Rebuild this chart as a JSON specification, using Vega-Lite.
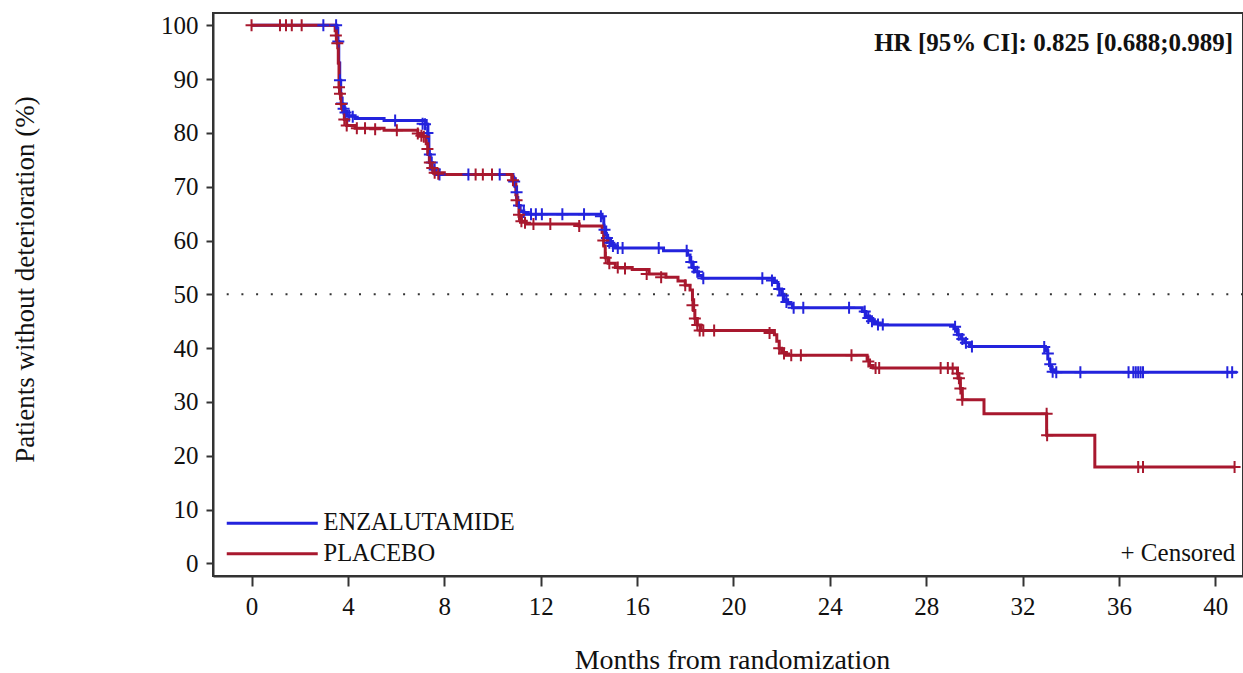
{
  "$schema": "https://vega.github.io/schema/vega-lite/v6.json",
  "width": 1030,
  "height": 563,
  "autosize": {"type": "none"},
  "padding": {"left": 213, "top": 13, "right": 0, "bottom": 97},
  "background": "white",
  "config": {
    "font": "Liberation Serif",
    "view": {"stroke": "#333333", "strokeWidth": 2},
    "axis": {"grid": false, "domainColor": "#333333", "domainWidth": 2, "tickColor": "#333333", "tickWidth": 2, "labelFont": "Liberation Serif", "titleFont": "Liberation Serif", "labelColor": "#111111", "titleColor": "#111111", "labelFontSize": 25, "titleFontSize": 27, "titleFontWeight": "normal"}
  },
  "datasets": {
    "km": [
      {"group": "ENZALUTAMIDE", "t": 0, "s": 100},
      {"group": "ENZALUTAMIDE", "t": 3.54, "s": 99.5},
      {"group": "ENZALUTAMIDE", "t": 3.58, "s": 97},
      {"group": "ENZALUTAMIDE", "t": 3.62, "s": 93},
      {"group": "ENZALUTAMIDE", "t": 3.66, "s": 89.8},
      {"group": "ENZALUTAMIDE", "t": 3.7, "s": 86.5},
      {"group": "ENZALUTAMIDE", "t": 3.76, "s": 85},
      {"group": "ENZALUTAMIDE", "t": 3.85, "s": 84},
      {"group": "ENZALUTAMIDE", "t": 3.95, "s": 83.2},
      {"group": "ENZALUTAMIDE", "t": 4.3, "s": 82.7},
      {"group": "ENZALUTAMIDE", "t": 5.5, "s": 82.3},
      {"group": "ENZALUTAMIDE", "t": 7.25, "s": 81.6},
      {"group": "ENZALUTAMIDE", "t": 7.32, "s": 79.5},
      {"group": "ENZALUTAMIDE", "t": 7.36, "s": 76},
      {"group": "ENZALUTAMIDE", "t": 7.42, "s": 74.5},
      {"group": "ENZALUTAMIDE", "t": 7.5, "s": 73.2},
      {"group": "ENZALUTAMIDE", "t": 7.65, "s": 72.3},
      {"group": "ENZALUTAMIDE", "t": 10.85, "s": 71.5},
      {"group": "ENZALUTAMIDE", "t": 10.95, "s": 70},
      {"group": "ENZALUTAMIDE", "t": 11.0, "s": 68},
      {"group": "ENZALUTAMIDE", "t": 11.05, "s": 66.5},
      {"group": "ENZALUTAMIDE", "t": 11.15, "s": 65.5},
      {"group": "ENZALUTAMIDE", "t": 11.3, "s": 64.9},
      {"group": "ENZALUTAMIDE", "t": 14.55, "s": 64.2},
      {"group": "ENZALUTAMIDE", "t": 14.62, "s": 62.5},
      {"group": "ENZALUTAMIDE", "t": 14.7, "s": 61},
      {"group": "ENZALUTAMIDE", "t": 14.78, "s": 60},
      {"group": "ENZALUTAMIDE", "t": 14.9, "s": 59.2},
      {"group": "ENZALUTAMIDE", "t": 15.1, "s": 58.6},
      {"group": "ENZALUTAMIDE", "t": 17.1, "s": 58.1},
      {"group": "ENZALUTAMIDE", "t": 18.1, "s": 57.3},
      {"group": "ENZALUTAMIDE", "t": 18.2, "s": 56},
      {"group": "ENZALUTAMIDE", "t": 18.3, "s": 55},
      {"group": "ENZALUTAMIDE", "t": 18.4, "s": 54.2},
      {"group": "ENZALUTAMIDE", "t": 18.55, "s": 53.5},
      {"group": "ENZALUTAMIDE", "t": 18.7, "s": 53},
      {"group": "ENZALUTAMIDE", "t": 21.7, "s": 52.2},
      {"group": "ENZALUTAMIDE", "t": 21.85, "s": 51},
      {"group": "ENZALUTAMIDE", "t": 22.0, "s": 50},
      {"group": "ENZALUTAMIDE", "t": 22.1, "s": 49},
      {"group": "ENZALUTAMIDE", "t": 22.25, "s": 48.2},
      {"group": "ENZALUTAMIDE", "t": 22.45, "s": 47.5},
      {"group": "ENZALUTAMIDE", "t": 25.35, "s": 46.8},
      {"group": "ENZALUTAMIDE", "t": 25.5, "s": 46},
      {"group": "ENZALUTAMIDE", "t": 25.65, "s": 45.3},
      {"group": "ENZALUTAMIDE", "t": 25.85, "s": 44.7},
      {"group": "ENZALUTAMIDE", "t": 26.1, "s": 44.3},
      {"group": "ENZALUTAMIDE", "t": 29.15, "s": 43.6},
      {"group": "ENZALUTAMIDE", "t": 29.3, "s": 42.5},
      {"group": "ENZALUTAMIDE", "t": 29.45, "s": 41.7},
      {"group": "ENZALUTAMIDE", "t": 29.6, "s": 41},
      {"group": "ENZALUTAMIDE", "t": 29.8, "s": 40.3},
      {"group": "ENZALUTAMIDE", "t": 32.95, "s": 39.5},
      {"group": "ENZALUTAMIDE", "t": 33.05, "s": 38},
      {"group": "ENZALUTAMIDE", "t": 33.12, "s": 36.8},
      {"group": "ENZALUTAMIDE", "t": 33.2, "s": 36},
      {"group": "ENZALUTAMIDE", "t": 33.35, "s": 35.5},
      {"group": "ENZALUTAMIDE", "t": 40.9, "s": 35.5},
      {"group": "PLACEBO", "t": 0, "s": 100},
      {"group": "PLACEBO", "t": 3.47, "s": 99},
      {"group": "PLACEBO", "t": 3.52, "s": 98.1},
      {"group": "PLACEBO", "t": 3.56, "s": 96.7},
      {"group": "PLACEBO", "t": 3.6, "s": 93},
      {"group": "PLACEBO", "t": 3.63, "s": 88.5},
      {"group": "PLACEBO", "t": 3.67, "s": 87.3},
      {"group": "PLACEBO", "t": 3.72, "s": 85.4},
      {"group": "PLACEBO", "t": 3.78, "s": 84},
      {"group": "PLACEBO", "t": 3.85, "s": 82.5},
      {"group": "PLACEBO", "t": 3.95, "s": 81.4},
      {"group": "PLACEBO", "t": 4.3, "s": 80.9},
      {"group": "PLACEBO", "t": 5.5, "s": 80.5},
      {"group": "PLACEBO", "t": 6.9, "s": 79.9},
      {"group": "PLACEBO", "t": 7.1, "s": 79.4},
      {"group": "PLACEBO", "t": 7.25, "s": 78},
      {"group": "PLACEBO", "t": 7.32, "s": 76},
      {"group": "PLACEBO", "t": 7.38, "s": 74.5},
      {"group": "PLACEBO", "t": 7.45, "s": 73.5},
      {"group": "PLACEBO", "t": 7.55, "s": 72.6},
      {"group": "PLACEBO", "t": 8.0, "s": 72.3},
      {"group": "PLACEBO", "t": 10.8, "s": 71.6},
      {"group": "PLACEBO", "t": 10.9, "s": 70.5},
      {"group": "PLACEBO", "t": 10.97, "s": 68.5},
      {"group": "PLACEBO", "t": 11.02, "s": 66.5},
      {"group": "PLACEBO", "t": 11.1, "s": 64.5},
      {"group": "PLACEBO", "t": 11.2, "s": 63.6},
      {"group": "PLACEBO", "t": 11.4, "s": 63.1},
      {"group": "PLACEBO", "t": 13.6, "s": 62.7},
      {"group": "PLACEBO", "t": 14.55, "s": 61.5},
      {"group": "PLACEBO", "t": 14.62, "s": 59},
      {"group": "PLACEBO", "t": 14.68, "s": 56.8},
      {"group": "PLACEBO", "t": 14.8, "s": 55.8},
      {"group": "PLACEBO", "t": 15.1, "s": 55.0},
      {"group": "PLACEBO", "t": 15.8, "s": 54.6},
      {"group": "PLACEBO", "t": 16.5, "s": 53.8},
      {"group": "PLACEBO", "t": 17.2, "s": 53.2},
      {"group": "PLACEBO", "t": 17.7, "s": 52.5},
      {"group": "PLACEBO", "t": 18.0, "s": 51.7},
      {"group": "PLACEBO", "t": 18.2, "s": 50.8},
      {"group": "PLACEBO", "t": 18.3, "s": 49},
      {"group": "PLACEBO", "t": 18.35, "s": 47},
      {"group": "PLACEBO", "t": 18.4, "s": 45.5},
      {"group": "PLACEBO", "t": 18.5, "s": 44.3},
      {"group": "PLACEBO", "t": 18.65, "s": 43.3},
      {"group": "PLACEBO", "t": 21.7, "s": 42.5},
      {"group": "PLACEBO", "t": 21.8, "s": 41.3},
      {"group": "PLACEBO", "t": 21.9, "s": 40},
      {"group": "PLACEBO", "t": 22.0, "s": 39.2},
      {"group": "PLACEBO", "t": 22.2, "s": 38.7},
      {"group": "PLACEBO", "t": 25.55, "s": 37.8},
      {"group": "PLACEBO", "t": 25.65, "s": 36.8},
      {"group": "PLACEBO", "t": 25.8, "s": 36.3},
      {"group": "PLACEBO", "t": 29.3, "s": 35.3},
      {"group": "PLACEBO", "t": 29.36, "s": 34.4},
      {"group": "PLACEBO", "t": 29.42, "s": 32.5},
      {"group": "PLACEBO", "t": 29.5, "s": 30.4},
      {"group": "PLACEBO", "t": 30.4, "s": 27.8},
      {"group": "PLACEBO", "t": 33.0, "s": 23.8},
      {"group": "PLACEBO", "t": 35.0, "s": 17.9},
      {"group": "PLACEBO", "t": 40.8, "s": 17.9}
    ],
    "censor": [
      {"group": "ENZALUTAMIDE", "t": 2.98, "s": 100},
      {"group": "ENZALUTAMIDE", "t": 3.51, "s": 100},
      {"group": "ENZALUTAMIDE", "t": 3.6, "s": 97},
      {"group": "ENZALUTAMIDE", "t": 3.67, "s": 89.8},
      {"group": "ENZALUTAMIDE", "t": 3.75, "s": 85.5},
      {"group": "ENZALUTAMIDE", "t": 3.82, "s": 84.5},
      {"group": "ENZALUTAMIDE", "t": 3.9, "s": 83.8},
      {"group": "ENZALUTAMIDE", "t": 4.05, "s": 83.2},
      {"group": "ENZALUTAMIDE", "t": 4.2, "s": 83},
      {"group": "ENZALUTAMIDE", "t": 5.96, "s": 82.3},
      {"group": "ENZALUTAMIDE", "t": 7.1, "s": 81.7},
      {"group": "ENZALUTAMIDE", "t": 7.2, "s": 81.6},
      {"group": "ENZALUTAMIDE", "t": 7.3, "s": 80},
      {"group": "ENZALUTAMIDE", "t": 7.4, "s": 76},
      {"group": "ENZALUTAMIDE", "t": 7.48, "s": 74.5},
      {"group": "ENZALUTAMIDE", "t": 7.6, "s": 73.2},
      {"group": "ENZALUTAMIDE", "t": 7.8, "s": 72.3},
      {"group": "ENZALUTAMIDE", "t": 9.0, "s": 72.3},
      {"group": "ENZALUTAMIDE", "t": 10.3, "s": 72.3},
      {"group": "ENZALUTAMIDE", "t": 10.9, "s": 71},
      {"group": "ENZALUTAMIDE", "t": 11.0, "s": 69},
      {"group": "ENZALUTAMIDE", "t": 11.1, "s": 66.5},
      {"group": "ENZALUTAMIDE", "t": 11.3, "s": 65.3},
      {"group": "ENZALUTAMIDE", "t": 11.6, "s": 64.9},
      {"group": "ENZALUTAMIDE", "t": 11.8, "s": 64.9},
      {"group": "ENZALUTAMIDE", "t": 12.05, "s": 64.9},
      {"group": "ENZALUTAMIDE", "t": 12.9, "s": 64.9},
      {"group": "ENZALUTAMIDE", "t": 13.8, "s": 64.9},
      {"group": "ENZALUTAMIDE", "t": 14.5, "s": 64.5},
      {"group": "ENZALUTAMIDE", "t": 14.65, "s": 62},
      {"group": "ENZALUTAMIDE", "t": 14.75, "s": 60.5},
      {"group": "ENZALUTAMIDE", "t": 14.85, "s": 59.6},
      {"group": "ENZALUTAMIDE", "t": 15.0, "s": 59},
      {"group": "ENZALUTAMIDE", "t": 15.2, "s": 58.6},
      {"group": "ENZALUTAMIDE", "t": 15.4, "s": 58.6},
      {"group": "ENZALUTAMIDE", "t": 16.9, "s": 58.6},
      {"group": "ENZALUTAMIDE", "t": 18.06, "s": 58.1},
      {"group": "ENZALUTAMIDE", "t": 18.25, "s": 56},
      {"group": "ENZALUTAMIDE", "t": 18.35, "s": 55},
      {"group": "ENZALUTAMIDE", "t": 18.5, "s": 54.2},
      {"group": "ENZALUTAMIDE", "t": 18.75, "s": 53},
      {"group": "ENZALUTAMIDE", "t": 21.2, "s": 53},
      {"group": "ENZALUTAMIDE", "t": 21.6, "s": 52.6},
      {"group": "ENZALUTAMIDE", "t": 21.9, "s": 51},
      {"group": "ENZALUTAMIDE", "t": 22.05, "s": 49.8},
      {"group": "ENZALUTAMIDE", "t": 22.2, "s": 48.6},
      {"group": "ENZALUTAMIDE", "t": 22.5, "s": 47.5},
      {"group": "ENZALUTAMIDE", "t": 22.9, "s": 47.5},
      {"group": "ENZALUTAMIDE", "t": 24.8, "s": 47.5},
      {"group": "ENZALUTAMIDE", "t": 25.45, "s": 46.8},
      {"group": "ENZALUTAMIDE", "t": 25.6, "s": 45.6},
      {"group": "ENZALUTAMIDE", "t": 25.75, "s": 45},
      {"group": "ENZALUTAMIDE", "t": 26.0, "s": 44.4},
      {"group": "ENZALUTAMIDE", "t": 26.2, "s": 44.4},
      {"group": "ENZALUTAMIDE", "t": 29.2, "s": 44},
      {"group": "ENZALUTAMIDE", "t": 29.35, "s": 42.5},
      {"group": "ENZALUTAMIDE", "t": 29.5, "s": 41.7},
      {"group": "ENZALUTAMIDE", "t": 29.65, "s": 41},
      {"group": "ENZALUTAMIDE", "t": 29.9, "s": 40.3},
      {"group": "ENZALUTAMIDE", "t": 32.9, "s": 40.2},
      {"group": "ENZALUTAMIDE", "t": 33.05, "s": 39},
      {"group": "ENZALUTAMIDE", "t": 33.15, "s": 37},
      {"group": "ENZALUTAMIDE", "t": 33.25, "s": 35.6},
      {"group": "ENZALUTAMIDE", "t": 33.4, "s": 35.5},
      {"group": "ENZALUTAMIDE", "t": 34.4, "s": 35.5},
      {"group": "ENZALUTAMIDE", "t": 36.4, "s": 35.5},
      {"group": "ENZALUTAMIDE", "t": 36.6, "s": 35.5},
      {"group": "ENZALUTAMIDE", "t": 36.7, "s": 35.5},
      {"group": "ENZALUTAMIDE", "t": 36.8, "s": 35.5},
      {"group": "ENZALUTAMIDE", "t": 36.9, "s": 35.5},
      {"group": "ENZALUTAMIDE", "t": 37.0, "s": 35.5},
      {"group": "ENZALUTAMIDE", "t": 40.5, "s": 35.5},
      {"group": "ENZALUTAMIDE", "t": 40.7, "s": 35.5},
      {"group": "PLACEBO", "t": 0, "s": 100},
      {"group": "PLACEBO", "t": 1.18, "s": 100},
      {"group": "PLACEBO", "t": 1.43, "s": 100},
      {"group": "PLACEBO", "t": 1.67, "s": 100},
      {"group": "PLACEBO", "t": 2.08, "s": 100},
      {"group": "PLACEBO", "t": 3.5, "s": 98.1},
      {"group": "PLACEBO", "t": 3.56, "s": 96.7},
      {"group": "PLACEBO", "t": 3.63, "s": 88.5},
      {"group": "PLACEBO", "t": 3.67, "s": 87.3},
      {"group": "PLACEBO", "t": 3.72, "s": 85.4},
      {"group": "PLACEBO", "t": 3.85, "s": 82.5},
      {"group": "PLACEBO", "t": 3.95, "s": 81.4},
      {"group": "PLACEBO", "t": 4.37, "s": 80.9},
      {"group": "PLACEBO", "t": 4.71, "s": 80.9},
      {"group": "PLACEBO", "t": 5.13, "s": 80.7},
      {"group": "PLACEBO", "t": 6.03, "s": 80.5},
      {"group": "PLACEBO", "t": 6.9, "s": 79.9},
      {"group": "PLACEBO", "t": 7.05, "s": 79.5},
      {"group": "PLACEBO", "t": 7.15, "s": 79.3},
      {"group": "PLACEBO", "t": 7.3, "s": 77},
      {"group": "PLACEBO", "t": 7.4, "s": 74.5},
      {"group": "PLACEBO", "t": 7.5, "s": 73.5},
      {"group": "PLACEBO", "t": 7.6, "s": 72.6},
      {"group": "PLACEBO", "t": 7.75, "s": 72.4},
      {"group": "PLACEBO", "t": 9.3, "s": 72.3},
      {"group": "PLACEBO", "t": 9.6, "s": 72.3},
      {"group": "PLACEBO", "t": 9.98, "s": 72.3},
      {"group": "PLACEBO", "t": 10.85, "s": 71.2},
      {"group": "PLACEBO", "t": 11.0, "s": 67.5},
      {"group": "PLACEBO", "t": 11.1, "s": 64.8},
      {"group": "PLACEBO", "t": 11.2, "s": 63.6},
      {"group": "PLACEBO", "t": 11.35, "s": 63.3},
      {"group": "PLACEBO", "t": 11.7, "s": 63.1},
      {"group": "PLACEBO", "t": 12.4, "s": 63.1},
      {"group": "PLACEBO", "t": 13.6, "s": 62.7},
      {"group": "PLACEBO", "t": 14.6, "s": 60},
      {"group": "PLACEBO", "t": 14.7, "s": 56.8},
      {"group": "PLACEBO", "t": 14.85, "s": 55.8},
      {"group": "PLACEBO", "t": 15.2, "s": 55.0},
      {"group": "PLACEBO", "t": 15.5, "s": 54.8},
      {"group": "PLACEBO", "t": 16.4, "s": 53.8},
      {"group": "PLACEBO", "t": 17.0, "s": 53.2},
      {"group": "PLACEBO", "t": 18.0, "s": 51.7},
      {"group": "PLACEBO", "t": 18.3, "s": 48},
      {"group": "PLACEBO", "t": 18.4, "s": 45.5},
      {"group": "PLACEBO", "t": 18.5, "s": 44.3},
      {"group": "PLACEBO", "t": 18.6, "s": 43.3},
      {"group": "PLACEBO", "t": 18.75, "s": 43.3},
      {"group": "PLACEBO", "t": 19.2, "s": 43.3},
      {"group": "PLACEBO", "t": 21.5, "s": 42.8},
      {"group": "PLACEBO", "t": 21.9, "s": 40},
      {"group": "PLACEBO", "t": 22.1, "s": 39},
      {"group": "PLACEBO", "t": 22.4, "s": 38.7},
      {"group": "PLACEBO", "t": 22.8, "s": 38.7},
      {"group": "PLACEBO", "t": 24.9, "s": 38.7},
      {"group": "PLACEBO", "t": 25.6, "s": 37.5},
      {"group": "PLACEBO", "t": 25.9, "s": 36.3},
      {"group": "PLACEBO", "t": 26.05, "s": 36.3},
      {"group": "PLACEBO", "t": 28.6, "s": 36.3},
      {"group": "PLACEBO", "t": 28.9, "s": 36.3},
      {"group": "PLACEBO", "t": 29.1, "s": 36.2},
      {"group": "PLACEBO", "t": 29.3, "s": 35.3},
      {"group": "PLACEBO", "t": 29.36, "s": 34.4},
      {"group": "PLACEBO", "t": 29.42, "s": 32.5},
      {"group": "PLACEBO", "t": 29.5, "s": 30.4},
      {"group": "PLACEBO", "t": 33.0, "s": 27.8},
      {"group": "PLACEBO", "t": 33.02, "s": 23.8},
      {"group": "PLACEBO", "t": 36.8, "s": 17.9},
      {"group": "PLACEBO", "t": 37.0, "s": 17.9},
      {"group": "PLACEBO", "t": 40.8, "s": 17.9}
    ]
  },
  "layer": [
    {
      "data": {"values": [{}]},
      "mark": {"type": "rule", "color": "#333333", "strokeWidth": 2, "strokeDash": [2, 12.7]},
      "encoding": {"y": {"datum": 50, "type": "quantitative", "scale": {"domain": [-2.35, 102.3], "nice": false, "zero": false}}}
    },
    {
      "data": {"name": "km"},
      "mark": {"type": "line", "interpolate": "step-after", "strokeWidth": 3},
      "encoding": {
        "x": {"field": "t", "type": "quantitative", "scale": {"domain": [-1.6, 41.15], "nice": false, "zero": false}, "axis": {"values": [0, 4, 8, 12, 16, 20, 24, 28, 32, 36, 40], "tickSize": 10, "labelPadding": 8, "title": "Months from randomization", "titleFont": "Liberation Serif", "titleFontSize": 28, "titleX": 519, "titleY": 84, "titleBaseline": "middle", "titleAlign": "center"}},
        "y": {"field": "s", "type": "quantitative", "scale": {"domain": [-2.35, 102.3], "nice": false, "zero": false}, "axis": {"values": [0, 10, 20, 30, 40, 50, 60, 70, 80, 90, 100], "tickSize": 7, "labelPadding": 8, "title": "Patients without deterioration (%)", "titleFont": "Liberation Serif", "titleFontSize": 27, "titleX": -188, "titleY": 266, "titleAngle": -90, "titleBaseline": "middle", "titleAlign": "center"}},
        "color": {
          "field": "group", "type": "nominal",
          "scale": {"domain": ["ENZALUTAMIDE", "PLACEBO"], "range": ["#2323dd", "#a8182e"]},
          "legend": {"title": null, "orient": "none", "legendX": 47, "legendY": 498, "padding": 0, "symbolType": "M -9.1 0 L 9.1 0", "symbolSize": 100, "symbolStrokeWidth": 3, "labelOffset": 39, "labelFont": "Liberation Serif", "labelFontSize": 24.5, "labelColor": "#111111", "rowPadding": 5.5, "labelLimit": 400}
        }
      }
    },
    {
      "data": {"name": "censor"},
      "mark": {"type": "point", "shape": "M -1 0 L 1 0 M 0 -1 L 0 1", "size": 144, "filled": false, "strokeWidth": 2, "opacity": 1},
      "encoding": {
        "x": {"field": "t", "type": "quantitative"},
        "y": {"field": "s", "type": "quantitative"},
        "stroke": {"field": "group", "type": "nominal", "scale": {"domain": ["ENZALUTAMIDE", "PLACEBO"], "range": ["#2323dd", "#a8182e"]}, "legend": null}
      }
    },
    {
      "data": {"values": [{}]},
      "mark": {"type": "text", "text": "HR [95% CI]: 0.825 [0.688;0.989]", "align": "right", "baseline": "middle", "font": "Liberation Serif", "fontSize": 25, "fontWeight": "bold", "color": "#111111"},
      "encoding": {"x": {"datum": 40.74, "type": "quantitative"}, "y": {"datum": 96.8, "type": "quantitative"}}
    },
    {
      "data": {"values": [{}]},
      "mark": {"type": "text", "text": "+  Censored", "align": "right", "baseline": "middle", "font": "Liberation Serif", "fontSize": 25, "color": "#111111"},
      "encoding": {"x": {"datum": 40.83, "type": "quantitative"}, "y": {"datum": 1.86, "type": "quantitative"}}
    }
  ]
}
